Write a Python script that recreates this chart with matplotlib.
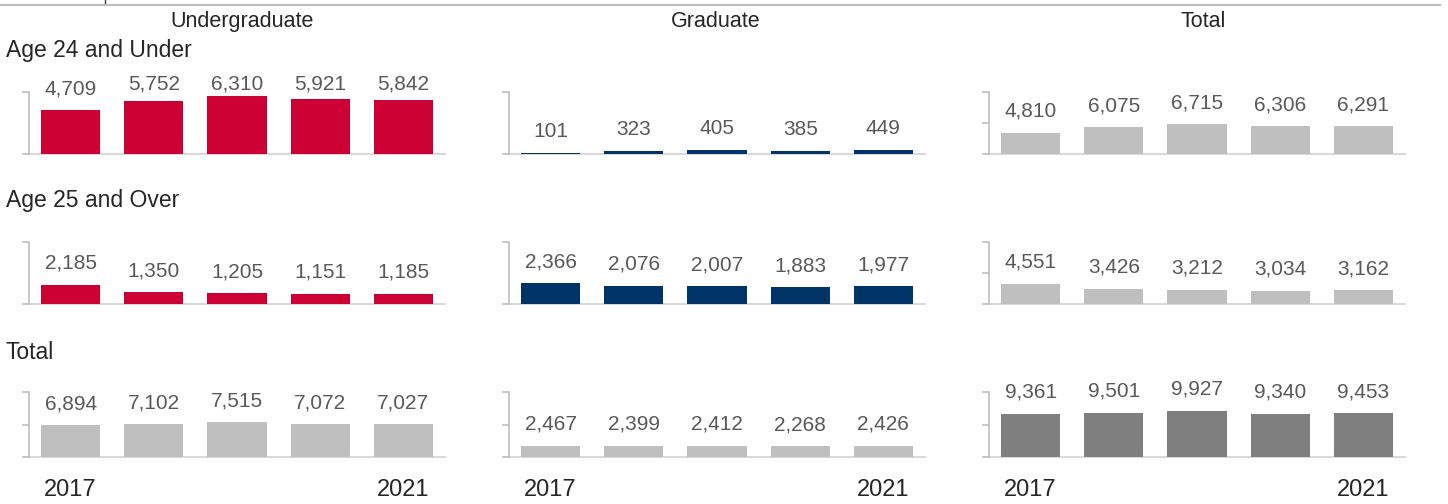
import numpy as np
import matplotlib.pyplot as plt
from matplotlib.lines import Line2D

plt.rcParams['font.family'] = ['Liberation Sans', 'DejaVu Sans']

# data
years = ['2017', '2018', '2019', '2020', '2021']
col_names = ['Undergraduate', 'Graduate', 'Total']
row_names = ['Age 24 and Under', 'Age 25 and Over', 'Total']

ug_young = [4709, 5752, 6310, 5921, 5842]
ug_old = [2185, 1350, 1205, 1151, 1185]
ug_total = [6894, 7102, 7515, 7072, 7027]
gr_young = [101, 323, 405, 385, 449]
gr_old = [2366, 2076, 2007, 1883, 1977]
gr_total = [2467, 2399, 2412, 2268, 2426]
all_young = [4810, 6075, 6715, 6306, 6291]
all_old = [4551, 3426, 3212, 3034, 3162]
all_total = [9361, 9501, 9927, 9340, 9453]

data = [[ug_young, gr_young, all_young],
        [ug_old, gr_old, all_old],
        [ug_total, gr_total, all_total]]

# axis maximum of each small panel
ymax = [[6700, 7000, 14000],
        [7000, 7000, 14000],
        [14000, 14000, 14000]]

red = '#CC0033'
navy = '#003366'
lgray = '#BFBFBF'
dgray = '#7F7F7F'
colors = [[red, navy, lgray],
          [red, navy, lgray],
          [lgray, lgray, dgray]]

W, H = 1448, 504
fig = plt.figure(figsize=(W / 100, H / 100), dpi=100)

col_x = [29, 509, 989]
row_bottom = [154, 304, 457]
row_h = [62, 62, 65]
panel_w = 416

for r in range(3):
    for c in range(3):
        ax = fig.add_axes([col_x[c] / W, (H - row_bottom[r]) / H,
                           panel_w / W, row_h[r] / H])
        vals = data[r][c]
        top = ymax[r][c]
        ax.bar(range(len(vals)), vals, width=0.71, color=colors[r][c],
               zorder=3)
        ax.set_xlim(-0.5, 4.5)
        ax.set_ylim(0, top)
        for s in ['top', 'right']:
            ax.spines[s].set_visible(False)
        ax.spines['left'].set_color('#BFBFBF')
        ax.spines['left'].set_linewidth(1.2)
        ax.spines['bottom'].set_color('#D9D9D9')
        ax.spines['bottom'].set_linewidth(1.5)
        ax.spines['bottom'].set_zorder(1)
        if top > 10000:
            ax.set_yticks([0, top / 2, top])
        else:
            ax.set_yticks([0, top])
        ax.tick_params(axis='y', length=5, width=1.2, color='#BFBFBF',
                       labelleft=False)
        if r == 2:
            ax.set_xticks([0, 4], [years[0], years[-1]])
            ax.tick_params(axis='x', length=0, pad=16, labelsize=17,
                           labelcolor='#262626')
        else:
            ax.set_xticks([])
        # value labels above the bars, kept inside the panel
        for i, v in enumerate(vals):
            ax.annotate(f'{v:,}', xy=(i, min(v, 0.79 * top)),
                        xytext=(0, 11.5), textcoords='offset points',
                        ha='center', va='baseline', fontsize=15,
                        color='#595959', annotation_clip=False)

# column headers
for name, x in zip(col_names, [242, 716, 1203]):
    fig.text(x / W, 1 - 27 / H, name, ha='center', va='baseline',
             fontsize=15.5, color='#262626')

# row headers
for name, y in zip(row_names, [57, 207, 359]):
    fig.text(6 / W, 1 - y / H, name, ha='left', va='baseline',
             fontsize=16.5, color='#262626')

# rule at the top edge
fig.add_artist(Line2D([0, 1440 / W], [1 - 5 / H, 1 - 5 / H],
                      color='#BFBFBF', lw=1.6))
fig.add_artist(Line2D([105 / W, 105 / W], [1, 1 - 3 / H],
                      color='#404040', lw=1))

fig.savefig('out.png', dpi=100)
